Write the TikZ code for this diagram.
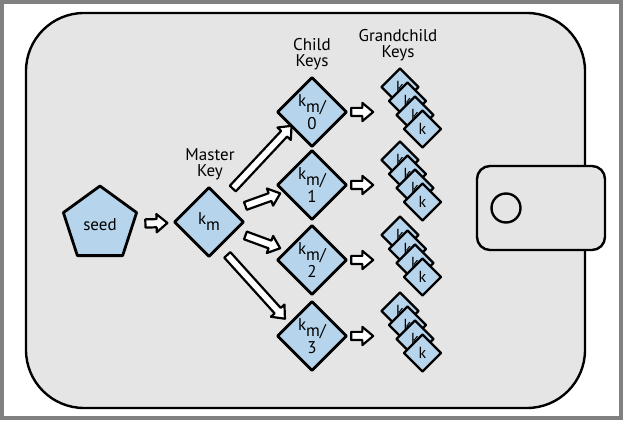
\documentclass[tikz,border=0pt]{standalone}
\usepackage{fontspec}
\setmainfont{PT Sans}
\usepackage{tikz}
\usetikzlibrary{shapes.geometric, shapes.arrows}
\definecolor{keyblue}{RGB}{182,213,236}
\definecolor{walletgrey}{RGB}{229,229,229}
\definecolor{framegrey}{RGB}{128,128,128}
\newcommand{\lowered}[1]{\raisebox{-0.35em}{#1}}

\begin{document}
\begin{tikzpicture}[x=1pt, y=1pt, line join=round,
  keybox/.style={diamond, draw, line width=2.8pt, fill=keyblue, minimum size=70pt, inner sep=0pt, align=center, font=\fontsize{17}{16}\selectfont},
  subkeybox/.style={diamond, draw, line width=2.4pt, fill=keyblue, minimum size=38pt, inner sep=0pt, font=\fontsize{16}{16}\selectfont},
  hollow/.style={single arrow, draw, line width=2.2pt, fill=white, inner sep=3pt, single arrow head extend=5pt, single arrow tip angle=80, sloped, minimum height=#1},
  heading/.style={align=center, font=\fontsize{17}{16}\selectfont}]
  \fill[framegrey] (0,0) rectangle (623,420);
  \fill[white] (4,4) rectangle (619,416);
  \draw[line width=2.4pt, fill=walletgrey, rounded corners=58pt] (26,12) rectangle (585,407);
  \draw[line width=2.4pt, fill=walletgrey, rounded corners=13pt] (477,170) rectangle (605,254);
  \draw[line width=2.4pt] (506,212) circle (14.5);

  \node[regular polygon, regular polygon sides=5, draw, line width=2.8pt, fill=keyblue, minimum size=77pt, inner sep=0pt, font=\fontsize{17}{15}\selectfont] (seed) at (100,195.5) {seed};
  \node[keybox]	(km)	at	(209,198)	{k\lowered{m}};
  \node[keybox]	(C0)	at	(312,308)	{k\lowered{m/}\\[2pt]0};
  \node[keybox]	(C1)	at	(312,235)	{k\lowered{m/}\\[2pt]1};
  \node[keybox]	(C2)	at	(312,160)	{k\lowered{m/}\\[2pt]2};
  \node[keybox]	(C3)	at	(312,84)	{k\lowered{m/}\\[2pt]3};

  \node[heading]	(mastertitle)	at	(210,256)	{Master\\Key};
  \node[heading]	(childtitle)	at	(312,366)	{Child\\Keys};
  \node[heading]	(grandtitle)	at	(398,375)	{Grandchild\\Keys};

  \node[subkeybox]	(G0a)	at	(400,333)	{k};
  \node[subkeybox]	(G0b)	at	(407.5,319)	{k};
  \node[subkeybox]	(G0c)	at	(415,305)	{k};
  \node[subkeybox]	(G0d)	at	(422.5,291)	{k};
  \node[subkeybox]	(G1a)	at	(400,260)	{k};
  \node[subkeybox]	(G1b)	at	(407.5,246)	{k};
  \node[subkeybox]	(G1c)	at	(415,232)	{k};
  \node[subkeybox]	(G1d)	at	(422.5,218)	{k};
  \node[subkeybox]	(G2a)	at	(400,185)	{k};
  \node[subkeybox]	(G2b)	at	(407.5,171)	{k};
  \node[subkeybox]	(G2c)	at	(415,157)	{k};
  \node[subkeybox]	(G2d)	at	(422.5,143)	{k};
  \node[subkeybox]	(G3a)	at	(400,109)	{k};
  \node[subkeybox]	(G3b)	at	(407.5,95)	{k};
  \node[subkeybox]	(G3c)	at	(415,81)	{k};
  \node[subkeybox]	(G3d)	at	(422.5,67)	{k};

  \path (seed) -- node[hollow=22pt]{} (km);
  \path ([yshift=8pt]km.center) -- node[hollow=86pt]{} ([yshift=8pt]C0.center);
  \path ([yshift=3pt]km.center) -- node[hollow=37pt]{} ([yshift=3pt]C1.center);
  \path (km) -- node[hollow=37pt]{} (C2);
  \path ([shift={(-6,-6)}]km.center) -- node[hollow=86pt]{} ([shift={(-6,-6)}]C3.center);
  \path (C0.center) -- node[hollow=22pt]{} (C0 -| G0b);
  \path (C1.center) -- node[hollow=22pt]{} (C1 -| G1b);
  \path (C2.center) -- node[hollow=22pt]{} (C2 -| G2b);
  \path (C3.center) -- node[hollow=22pt]{} (C3 -| G3b);
\end{tikzpicture}
\end{document}
